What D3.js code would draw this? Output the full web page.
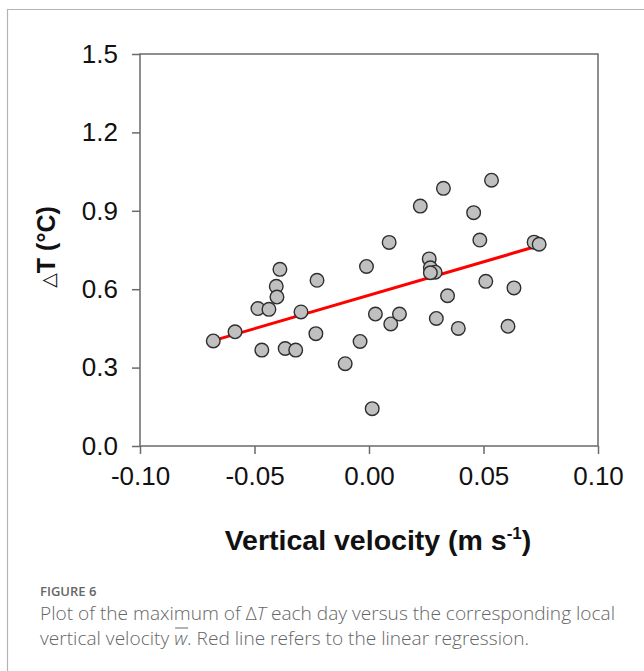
<!DOCTYPE html>
<html>
<head>
<meta charset="utf-8">
<script src="https://cdn.jsdelivr.net/npm/d3@7"></script>
<style>
  body { margin: 0; background: #fff; }
  .tick text { font-family: "Liberation Sans", Arial, sans-serif; }
</style>
</head>
<body>
<svg id="chart" width="644" height="671"></svg>
<script>
// vertical velocity (m s-1)
const velocity = [-0.068, -0.0585, -0.0485, -0.0437, -0.0468, -0.0389, -0.0405, -0.0402, -0.0366, -0.032,
    -0.0297, -0.0227, -0.0232, -0.0104, -0.0039, -0.0011, 0.0014, 0.0028, 0.0088, 0.0095,
    0.0133, 0.0224, 0.0325, 0.0535, 0.0457, 0.0484, 0.0721, 0.0743, 0.0263, 0.0268,
    0.0289, 0.0268, 0.051, 0.0633, 0.0343, 0.0294, 0.039, 0.0607];
// maximum delta T (°C)
const deltaT = [0.402, 0.437, 0.526, 0.523, 0.367, 0.676, 0.611, 0.570, 0.373, 0.367,
    0.513, 0.634, 0.430, 0.315, 0.400, 0.687, 0.143, 0.505, 0.779, 0.467,
    0.505, 0.918, 0.986, 1.017, 0.893, 0.788, 0.780, 0.772, 0.716, 0.682,
    0.665, 0.663, 0.630, 0.605, 0.575, 0.488, 0.450, 0.458];
// linear regression end points
const regX = [-0.068, 0.0743];
const regY = [0.403, 0.767];

const xTicks = [-0.10, -0.05, 0.00, 0.05, 0.10];
const yTicks = [0.0, 0.3, 0.6, 0.9, 1.2, 1.5];

const svg = d3.select('#chart');

// outer panel border (left + top)
svg.append('path')
    .attr('d', 'M7.5,671 V9.5 H644')
    .attr('fill', 'none')
    .attr('stroke', '#b4b4b4')
    .attr('stroke-width', 1.2);

const plot = { left: 140, right: 598, top: 54, bottom: 446 };

const x = d3.scaleLinear().domain([-0.10, 0.10]).range([plot.left, plot.right]);
const y = d3.scaleLinear().domain([0, 1.5]).range([plot.bottom, plot.top]);

const axisColor = '#6a6a6a';

// frame
svg.append('rect')
    .attr('x', plot.left).attr('y', plot.top)
    .attr('width', plot.right - plot.left).attr('height', plot.bottom - plot.top)
    .attr('fill', 'none')
    .attr('stroke', axisColor)
    .attr('stroke-width', 1.5);

const xAxis = svg.append('g')
    .attr('transform', `translate(0,${plot.bottom})`)
    .call(d3.axisBottom(x).tickValues(xTicks).tickFormat(d3.format('.2f')).tickSize(8).tickPadding(13));

const yAxis = svg.append('g')
    .attr('transform', `translate(${plot.left},0)`)
    .call(d3.axisLeft(y).tickValues(yTicks).tickFormat(d3.format('.1f')).tickSize(8).tickPadding(14));

[xAxis, yAxis].forEach(g => {
    g.select('.domain').remove();
    g.selectAll('.tick line').attr('stroke', axisColor).attr('stroke-width', 1.5);
    g.selectAll('.tick text').attr('fill', '#111').attr('font-size', 26);
});
xAxis.selectAll('.tick text').text(d => d3.format('.2f')(d).replace('−', '-'));

// regression line
svg.append('line')
    .attr('x1', x(regX[0])).attr('y1', y(regY[0]))
    .attr('x2', x(regX[1])).attr('y2', y(regY[1]))
    .attr('stroke', '#ff0000')
    .attr('stroke-width', 3);

// points
const points = velocity.map((v, i) => ({ v, t: deltaT[i] }));
svg.append('g').selectAll('circle')
    .data(points)
    .enter()
    .append('circle')
    .attr('cx', d => x(d.v))
    .attr('cy', d => y(d.t))
    .attr('r', 6.8)
    .attr('fill', '#c0c0c0')
    .attr('stroke', '#2e2e2e')
    .attr('stroke-width', 1.4);

// axis titles
svg.append('text')
    .attr('x', 378).attr('y', 550)
    .attr('text-anchor', 'middle')
    .attr('font-family', '"Liberation Sans", Arial, sans-serif')
    .attr('font-weight', 'bold')
    .attr('font-size', 28.5)
    .attr('fill', '#111')
    .html('Vertical velocity (m s<tspan dy="-11" font-size="17">-1</tspan><tspan dy="11">)</tspan>');

svg.append('text')
    .attr('transform', 'translate(55,247) rotate(-90)')
    .attr('text-anchor', 'middle')
    .attr('font-family', '"Liberation Sans", Arial, sans-serif')
    .attr('font-weight', 'bold')
    .attr('font-size', 25)
    .attr('fill', '#111')
    .html('<tspan font-weight="normal" font-family="DejaVu Sans" font-size="19">\u25B3</tspan>T (°C)');

// caption
const caption = svg.append('g')
    .attr('font-family', '"Open Sans", sans-serif')
    .attr('fill', '#666');

caption.append('text')
    .attr('x', 40).attr('y', 596)
    .attr('font-size', 13)
    .attr('font-weight', 600)
    .text('FIGURE 6');

caption.append('text')
    .attr('x', 40).attr('y', 620)
    .attr('font-size', 19.1)
    .attr('font-weight', 300)
    .html('Plot of the maximum of \u0394<tspan font-style="italic">T</tspan> each day versus the corresponding local');

const line2 = caption.append('text')
    .attr('x', 40).attr('y', 645)
    .attr('font-size', 19.1)
    .attr('font-weight', 300)
    .html('vertical velocity <tspan font-style="italic">w</tspan>. Red line refers to the linear regression.');

// overline on w (mean vertical velocity)
const wBox = line2.node().getExtentOfChar(18);
caption.append('line')
    .attr('x1', wBox.x + 1).attr('x2', wBox.x + wBox.width + 1)
    .attr('y1', wBox.y + 3).attr('y2', wBox.y + 3)
    .attr('stroke', '#666')
    .attr('stroke-width', 1);
</script>
</body>
</html>
